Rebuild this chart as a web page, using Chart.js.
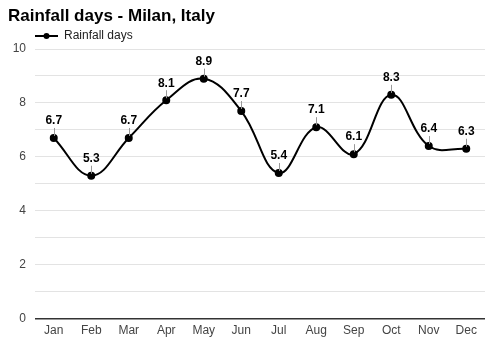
<!DOCTYPE html>
<html><head><meta charset="utf-8">
<script src="https://cdn.jsdelivr.net/npm/chart.js@4"></script>
<style>html,body{margin:0;padding:0;background:#fff}#wrap{width:500px;height:350px}</style>
</head><body><div id="wrap"><canvas id="c" width="500" height="350"></canvas></div>
<script>
const months = ["Jan","Feb","Mar","Apr","May","Jun","Jul","Aug","Sep","Oct","Nov","Dec"];
const rainfallDays = [6.7,5.3,6.7,8.1,8.9,7.7,5.4,7.1,6.1,8.3,6.4,6.3];
const yTickLabels = [0,2,4,6,8,10];
const seriesName = 'Rainfall days';
const FONT = "'Liberation Sans', Arial, sans-serif";

const labelPlugin = {
  id:'labels',
  afterDatasetsDraw(chart){
    const ctx = chart.ctx;
    const meta = chart.getDatasetMeta(0);
    ctx.save();
    ctx.font = "bold 12px "+FONT;
    ctx.textAlign='center'; ctx.textBaseline='middle';
    meta.data.forEach((pt,i)=>{
      ctx.strokeStyle='#999'; ctx.lineWidth=1;
      const x = Math.round(pt.x)+0.5;
      ctx.beginPath(); ctx.moveTo(x, pt.y-2); ctx.lineTo(x, pt.y-10); ctx.stroke();
      ctx.fillStyle='#000';
      ctx.fillText(String(rainfallDays[i]), pt.x, pt.y-17);
    });
    ctx.restore();
  }
};

const legendPlugin = {
  id:'customLegend',
  afterDraw(chart){
    const ctx = chart.ctx;
    const x0 = chart.chartArea.left, y = 36;
    ctx.save();
    ctx.strokeStyle='#000'; ctx.lineWidth=2;
    ctx.beginPath(); ctx.moveTo(x0, y); ctx.lineTo(x0+23, y); ctx.stroke();
    ctx.fillStyle='#000'; ctx.beginPath(); ctx.arc(x0+11.5, y, 3, 0, Math.PI*2); ctx.fill();
    ctx.font = "12px "+FONT; ctx.fillStyle='#222'; ctx.textAlign='left'; ctx.textBaseline='middle';
    ctx.fillText(seriesName, x0+29, y);
    ctx.restore();
  }
};

new Chart(document.getElementById('c'), {
  type:'line',
  data:{labels:months, datasets:[{label:seriesName, data:rainfallDays, borderColor:'#000', backgroundColor:'#000', borderWidth:2, pointRadius:3, pointHoverRadius:3, tension:0.4, fill:false}]},
  options:{
    responsive:false, animation:false, devicePixelRatio:1,
    layout:{padding:{left:8,right:15,top:6,bottom:7}},
    plugins:{
      title:{display:true, text:'Rainfall days - Milan, Italy', align:'start', color:'#000', font:{family:FONT,size:17,weight:'bold'}, padding:{top:0,bottom:22.6}},
      legend:{display:false},
      tooltip:{enabled:false}
    },
    scales:{
      x:{offset:true, grid:{display:false, drawTicks:false}, border:{display:false}, ticks:{color:'#444', font:{family:FONT,size:12}, padding:5}},
      y:{min:0,max:10, border:{display:false},
         afterFit:(s)=>{s.width=27;},
         grid:{color:(c)=>c.tick.value===0?'#333':'#e3e3e3', lineWidth:(c)=>c.tick.value===0?1.5:1, drawTicks:false},
         ticks:{stepSize:1, color:'#444', font:{family:FONT,size:12}, padding:9, callback:(v)=>yTickLabels.includes(v)?String(v):''}}
    }
  },
  plugins:[labelPlugin, legendPlugin]
});
</script></body></html>
